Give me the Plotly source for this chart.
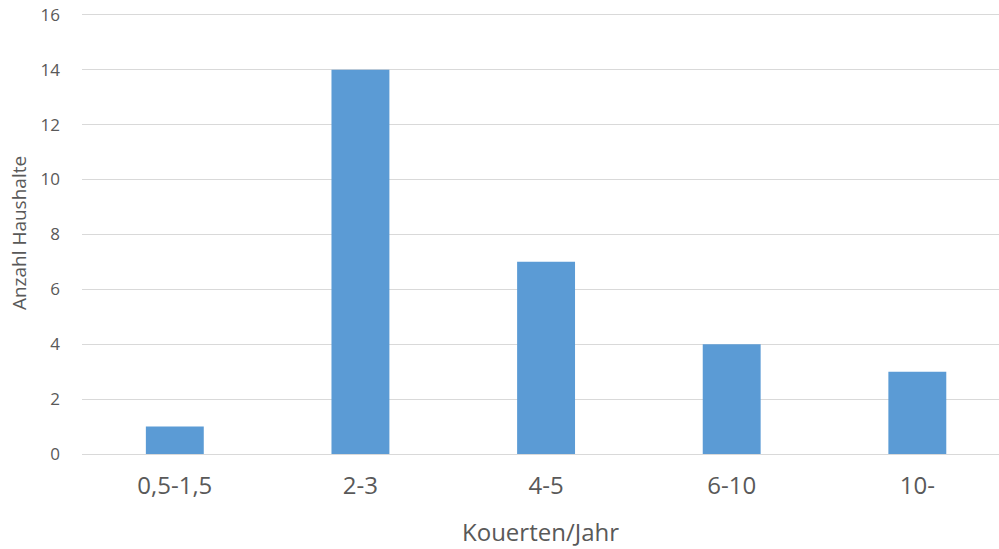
import plotly.graph_objects as go

categories = ["0,5-1,5", "2-3", "4-5", "6-10", "10-"]
values = [1, 14, 7, 4, 3]
y_ticks = [0, 2, 4, 6, 8, 10, 12, 14, 16]

fig = go.Figure(go.Bar(x=categories, y=values, marker=dict(color="#5B9BD5", line=dict(width=0))))

fig.update_layout(
    width=999, height=549,
    margin=dict(l=82, r=0, t=12, b=95),
    plot_bgcolor="white", paper_bgcolor="white",
    font=dict(family="Open Sans, sans-serif", color="#595959"),
    bargap=0.688,
    showlegend=False,
)
fig.update_xaxes(
    range=[-0.5, 4.44],
    tickfont=dict(size=24, color="#595959"),
    title=dict(text="Kouerten/Jahr", font=dict(size=24, color="#595959"), standoff=24),
    showgrid=False, showline=False, ticks="", ticklabelstandoff=15,
)
fig.update_yaxes(
    range=[0, 16.1], tickvals=y_ticks,
    tickfont=dict(size=17, color="#595959"),
    title=dict(text="Anzahl Haushalte", font=dict(size=19, color="#595959"), standoff=8),
    showgrid=True, gridcolor="#D9D9D9", gridwidth=1.3,
    zeroline=True, zerolinecolor="#D9D9D9", zerolinewidth=1.3,
    ticks="", ticklabelstandoff=21,
)

fig.write_html("out.html", config={"displayModeBar": False},
               post_script="document.body.style.margin='0';")
